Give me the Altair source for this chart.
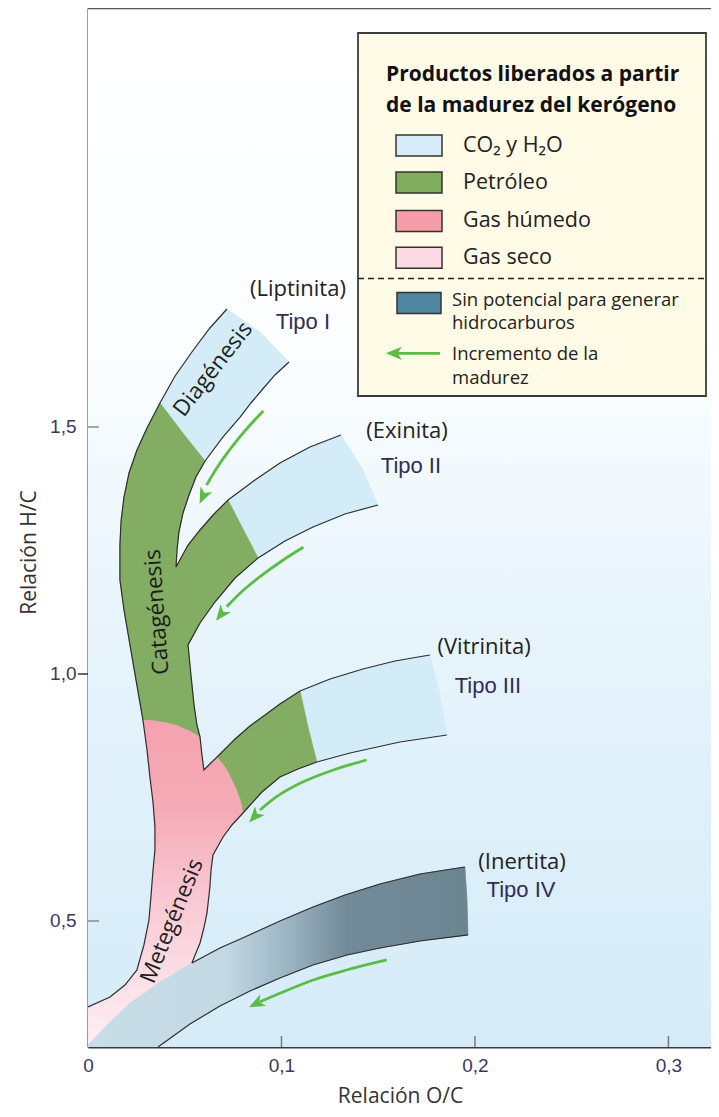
import altair as alt
import pandas as pd

# ---------------- layout -----------------
W, H = 623, 1039
X_DOMAIN = [0.0, 0.3220]
Y_DOMAIN = [0.2449, 2.3482]

BLUE = "#d3ecf8"
GREEN = "#83ad62"
EDGE = "#2e2e2e"
ARROW = "#5cbc46"
SANS = "Open Sans, DejaVu Sans, sans-serif"
COND = "Liberation Sans Narrow, Liberation Sans, sans-serif"

# ---------------- band edges (x = O/C, y = H/C) -----------------
A1 = [(0.0718, 1.7389), (0.0630, 1.7004), (0.0537, 1.6518), (0.0450, 1.6032), (0.0372, 1.5486)]
A2 = [(0.0372, 1.5486), (0.0305, 1.4980), (0.0253, 1.4534), (0.0212, 1.4069), (0.0186, 1.3583),
      (0.0171, 1.3097), (0.0165, 1.2611), (0.0165, 1.1903), (0.0186, 1.1296), (0.0217, 1.0587),
      (0.0248, 0.9879), (0.0284, 0.9069)]
A3 = [(0.0284, 0.9069), (0.0305, 0.8462), (0.0320, 0.7915), (0.0336, 0.7409), (0.0346, 0.6903),
      (0.0346, 0.6437), (0.0336, 0.6032), (0.0326, 0.5526), (0.0315, 0.5020), (0.0289, 0.4514),
      (0.0253, 0.4008), (0.0191, 0.3704), (0.0114, 0.3462), (0.0, 0.3259)]
B1 = [(0.1039, 1.6316), (0.0966, 1.6053), (0.0899, 1.5749), (0.0842, 1.5486), (0.0786, 1.5202),
      (0.0698, 1.4798), (0.0605, 1.4312)]
B2 = [(0.0605, 1.4312), (0.0558, 1.3988), (0.0522, 1.3623), (0.0491, 1.3259), (0.0470, 1.2874),
      (0.0460, 1.2510), (0.0455, 1.2166)]
C1 = [(0.0455, 1.2166), (0.0486, 1.2389), (0.0517, 1.2611), (0.0579, 1.2915), (0.0651, 1.3239),
      (0.0724, 1.3522)]
C2 = [(0.0724, 1.3522), (0.0863, 1.3927), (0.0992, 1.4271), (0.1147, 1.4595), (0.1307, 1.4838)]
D1 = [(0.1499, 1.3421), (0.1328, 1.3239), (0.1163, 1.2976), (0.1018, 1.2692), (0.0879, 1.2348)]
D2 = [(0.0879, 1.2348), (0.0760, 1.1943), (0.0656, 1.1457), (0.0579, 1.1032), (0.0517, 1.0587)]
E1 = [(0.0517, 1.0587), (0.0532, 0.9980), (0.0548, 0.9372), (0.0563, 0.8968), (0.0579, 0.8725)]
E2 = [(0.0579, 0.8725), (0.0589, 0.8360), (0.0599, 0.8057)]
F1 = [(0.0599, 0.8057), (0.0630, 0.8178), (0.0667, 0.8320)]
F2 = [(0.0667, 0.8320), (0.0760, 0.8684), (0.0837, 0.8947), (0.0915, 0.9170), (0.0992, 0.9393),
      (0.1096, 0.9656)]
F3 = [(0.1096, 0.9656), (0.1251, 0.9899), (0.1421, 1.0101), (0.1587, 1.0263), (0.1767, 1.0385)]
G1 = [(0.1855, 0.8765), (0.1612, 0.8623), (0.1354, 0.8401), (0.1183, 0.8219)]
G2 = [(0.1183, 0.8219), (0.1085, 0.8077), (0.0992, 0.7915), (0.0899, 0.7611), (0.0801, 0.7186)]
G3 = [(0.0801, 0.7186), (0.0744, 0.6943), (0.0698, 0.6700), (0.0646, 0.6336)]
HM = [(0.0646, 0.6336), (0.0636, 0.6032), (0.0630, 0.5688), (0.0615, 0.5162), (0.0599, 0.4858),
      (0.0579, 0.4555), (0.0537, 0.4150)]
I1 = [(0.0, 0.2490), (0.0114, 0.2955), (0.0217, 0.3340), (0.0372, 0.3765), (0.0537, 0.4150)]
I2 = [(0.0537, 0.4150), (0.0682, 0.4453), (0.0822, 0.4696), (0.0992, 0.5000), (0.1163, 0.5283),
      (0.1328, 0.5526), (0.1509, 0.5749), (0.1716, 0.5951), (0.1948, 0.6093)]
J = [(0.1964, 0.4717), (0.1716, 0.4595), (0.1509, 0.4453), (0.1339, 0.4312), (0.1163, 0.4109),
     (0.0992, 0.3846), (0.0837, 0.3583), (0.0682, 0.3279), (0.0527, 0.2915), (0.0362, 0.2449)]
IV_CORNER = [(0.0, 0.2449)]
CAP1 = [(0.0718, 1.7389), (0.0889, 1.6923), (0.1039, 1.6316)]
CAP2 = [(0.1307, 1.4838), (0.1416, 1.4170), (0.1499, 1.3421)]
CAP3 = [(0.1767, 1.0385), (0.1819, 0.9575), (0.1855, 0.8765)]
CAP4 = [(0.1948, 0.6093), (0.1959, 0.5425), (0.1964, 0.4717)]
K1 = [(0.0372, 1.5486), (0.0486, 1.4899), (0.0605, 1.4312)]
K2 = [(0.0724, 1.3522), (0.0801, 1.2935), (0.0879, 1.2348)]
K3 = [(0.1096, 0.9656), (0.1137, 0.8927), (0.1183, 0.8219)]
K4 = [(0.0284, 0.9069), (0.0346, 0.9049), (0.0408, 0.9008), (0.0465, 0.8947), (0.0522, 0.8846),
      (0.0579, 0.8725)]
K5 = [(0.0667, 0.8320), (0.0718, 0.8057), (0.0760, 0.7713), (0.0786, 0.7449), (0.0801, 0.7186)]

ARROWS = [
    [(0.0906, 1.5324), (0.0846, 1.5075), (0.0786, 1.4804), (0.0725, 1.4500), (0.0665, 1.4164),
     (0.0613, 1.3826), (0.0579, 1.3468)],
    [(0.1113, 1.2565), (0.1009, 1.2308), (0.0889, 1.1970), (0.0786, 1.1634), (0.0717, 1.1362),
     (0.0665, 1.1093)],
    [(0.1440, 0.8259), (0.1268, 0.8057), (0.1096, 0.7787), (0.0975, 0.7516), (0.0889, 0.7247),
     (0.0837, 0.7010)],
    [(0.1544, 0.4211), (0.1337, 0.4008), (0.1164, 0.3806), (0.0992, 0.3536), (0.0889, 0.3366),
     (0.0837, 0.3265)],
]
ARROW_ANGLES = [205, 218, 222, 244]

PAREN_TEXT = ["(Liptinita)", "(Exinita)", "(Vitrinita)", "(Inertita)"]
PAREN_X = [0.1085, 0.1649, 0.2047, 0.2243]
PAREN_Y = [1.779, 1.492, 1.055, 0.619]
TIPO_TEXT = ["Tipo I", "Tipo II", "Tipo III", "Tipo IV"]
TIPO_X = [0.1111, 0.1669, 0.2067, 0.2238]
TIPO_Y = [1.7126, 1.421, 0.976, 0.563]
STAGE_TEXT = ["Diagénesis", "Catagénesis", "Metegénesis"]
STAGE_X = [0.0646, 0.0357, 0.0434]
STAGE_Y = [1.617, 1.1255, 0.500]
STAGE_ANGLE = [308, 266, 292]

LEG_LABELS = ["CO₂ y H₂O", "Petróleo", "Gas húmedo", "Gas seco"]
LEG_COLORS = ["#d4edf9", "#7fac5f", "#f49ea9", "#fcdbe6"]
LEG_ROW_Y = [137.5, 174.5, 213.0, 249.7]
LEG_TITLE = ["Productos liberados a partir", "de la madurez del kerógeno"]


def join(*parts):
    pts = []
    for part in parts:
        for p in part:
            if not pts or pts[-1] != p:
                pts.append(p)
    return pts


def rev(e):
    return e[::-1]


def frame(pts):
    return pd.DataFrame({"x": [p[0] for p in pts], "y": [p[1] for p in pts], "i": list(range(len(pts)))})


PINK_GRAD = alt.Gradient(
    gradient="linear", x1=0, x2=0, y1=0, y2=1,
    stops=[alt.GradientStop(color="#f4a2af", offset=0),
           alt.GradientStop(color="#f5abb7", offset=0.28),
           alt.GradientStop(color="#f8c3ce", offset=0.5),
           alt.GradientStop(color="#fbdbe3", offset=0.75),
           alt.GradientStop(color="#fdeef3", offset=1)])
IV_GRAD = alt.Gradient(
    gradient="linear", x1=0, x2=1, y1=0, y2=0,
    stops=[alt.GradientStop(color="#c8dde8", offset=0),
           alt.GradientStop(color="#c3d9e4", offset=0.36),
           alt.GradientStop(color="#9db6c3", offset=0.52),
           alt.GradientStop(color="#738b98", offset=0.68),
           alt.GradientStop(color="#6d8591", offset=1)])
BG_GRAD = alt.Gradient(
    gradient="linear", x1=0, x2=0, y1=0, y2=1,
    stops=[alt.GradientStop(color="#ffffff", offset=0),
           alt.GradientStop(color="#fcfeff", offset=0.32),
           alt.GradientStop(color="#e9f5fc", offset=0.57),
           alt.GradientStop(color="#dff0fa", offset=0.76),
           alt.GradientStop(color="#d5ecf8", offset=1)])

POLYS = [
    (join(A1, K1, rev(B1), rev(CAP1)), BLUE),
    (join(C2, CAP2, D1, rev(K2)), BLUE),
    (join(F3, CAP3, G1, rev(K3)), BLUE),
    (join(A2, K4, rev(E1), rev(D2), rev(K2), rev(C1), rev(B2), rev(K1)), GREEN),
    (join(F2, K3, G2, rev(K5)), GREEN),
    (join(A3, I1, rev(HM), rev(G3), rev(K5), rev(F1), rev(E2), rev(K4)), PINK_GRAD),
    (join(I1, I2, CAP4, J, IV_CORNER), IV_GRAD),
]
STROKES = [
    join(A1, A2, A3),
    join(B1, B2, C1, C2),
    join(D1, D2, E1, E2, F1, F2, F3),
    join(G1, G2, G3, HM),
    I2,
    J,
]

x_axis = alt.Axis(values=[0, 0.1, 0.2, 0.3], ticks=False, grid=False,
                  labelExpr="datum.value == 0 ? '0' : replace(format(datum.value, '.1f'), '.', ',')",
                  labelFont=COND, labelFontSize=19, labelColor="#3b3762", labelPadding=9,
                  labelFlush=False, labelBaseline="top", labelOverlap=False,
                  domainColor="#3a3a3a", domainWidth=2,
                  title="Relación O/C", titleFont=SANS, titleFontSize=21, titleFontWeight="normal",
                  titleColor="#333333", titleX=312, titleY=49, titleAlign="center",
                  titleBaseline="middle")
y_axis = alt.Axis(values=[0.5, 1.0, 1.5], ticks=False, grid=False,
                  labelExpr="replace(format(datum.value, '.1f'), '.', ',')",
                  labelFont=COND, labelFontSize=19, labelColor="#3b3762", labelPadding=12,
                  labelOverlap=False,
                  domainColor="#3a3a3a", domainWidth=2,
                  title="Relación H/C", titleFont=SANS, titleFontSize=21, titleFontWeight="normal",
                  titleColor="#333333", titleAngle=270, titleX=-59, titleY=544, titleAlign="center",
                  titleBaseline="middle")
xs = alt.Scale(domain=X_DOMAIN, nice=False, zero=False)
ys = alt.Scale(domain=Y_DOMAIN, nice=False, zero=False)
X = alt.X("x:Q", scale=xs, axis=x_axis)
Y = alt.Y("y:Q", scale=ys, axis=y_axis)

ONE = pd.DataFrame({"k": [0]})
layers = []

layers.append(alt.Chart(ONE).mark_rect(fill=BG_GRAD).encode(
    x=alt.value(0), x2=alt.value(W), y=alt.value(0), y2=alt.value(H)))

for pts, fill in POLYS:
    layers.append(alt.Chart(frame(pts)).mark_line(
        fill=fill, stroke=fill, strokeWidth=0.7, interpolate="linear-closed", clip=True
    ).encode(x=X, y=Y, order="i:Q"))

for pts in STROKES:
    layers.append(alt.Chart(frame(pts)).mark_line(
        stroke=EDGE, strokeWidth=1.2, clip=True).encode(x=X, y=Y, order="i:Q"))

HEAD = "M0,-0.1 L0.62,1.4 L0,1.0 L-0.62,1.4 Z"
for pts in ARROWS:
    layers.append(alt.Chart(frame(pts[:-1])).mark_line(
        stroke=ARROW, strokeWidth=2.8, interpolate="monotone").encode(x=X, y=Y, order="i:Q"))
tips = pd.DataFrame({"x": [a[-1][0] for a in ARROWS], "y": [a[-1][1] for a in ARROWS],
                     "ang": ARROW_ANGLES})
layers.append(alt.Chart(tips).mark_point(shape=HEAD, filled=True, size=450, color=ARROW, opacity=1)
              .encode(x=X, y=Y, angle=alt.Angle("ang:Q", scale=None)))

layers.append(alt.Chart(pd.DataFrame({"x": PAREN_X, "y": PAREN_Y, "t": PAREN_TEXT})).mark_text(
    font=SANS, fontSize=22, color="#222222", baseline="middle", align="center").encode(x=X, y=Y, text="t:N"))
layers.append(alt.Chart(pd.DataFrame({"x": TIPO_X, "y": TIPO_Y, "t": TIPO_TEXT})).mark_text(
    font=COND, fontSize=22, color="#312d5a", baseline="middle", align="center").encode(x=X, y=Y, text="t:N"))
layers.append(alt.Chart(pd.DataFrame({"x": STAGE_X, "y": STAGE_Y, "t": STAGE_TEXT, "a": STAGE_ANGLE})).mark_text(
    font=SANS, fontSize=22.5, color="#1e1e1e", baseline="middle", align="center").encode(
    x=X, y=Y, text="t:N", angle=alt.Angle("a:Q", scale=None)))

for val, x0, x1, col in [(1.5, 0, 11, "#8a8a8a"), (1.0, -10, 0, "#333333"), (0.5, 0, 11, "#8a8a8a")]:
    layers.append(alt.Chart(pd.DataFrame({"y": [val]})).mark_rule(color=col, strokeWidth=1.5).encode(
        y=Y, x=alt.value(x0), x2=alt.value(x1)))
layers.append(alt.Chart(pd.DataFrame({"x": [0.1, 0.2, 0.3]})).mark_rule(color="#7a7a7a", strokeWidth=1.5).encode(
    x=X, y=alt.value(H - 11), y2=alt.value(H)))
layers.append(alt.Chart(ONE).mark_rule(color="#5a5a5a", strokeWidth=2.5).encode(
    x=alt.value(0), x2=alt.value(W), y=alt.value(0)))

# ---------------- legend box -----------------
layers.append(alt.Chart(ONE).mark_rect(fill="#fffbe7", stroke="#3c3c3c", strokeWidth=1.8).encode(
    x=alt.value(270), x2=alt.value(618), y=alt.value(25), y2=alt.value(388)))
for i, line in enumerate(LEG_TITLE):
    layers.append(alt.Chart(ONE).mark_text(text=line, font=SANS, fontSize=21, fontWeight="bold",
                                           color="#111111", align="left", baseline="middle").encode(
        x=alt.value(298), y=alt.value(67 + 31 * i)))
for lab, col, cy in zip(LEG_LABELS, LEG_COLORS, LEG_ROW_Y):
    layers.append(alt.Chart(ONE).mark_rect(fill=col, stroke="#333333", strokeWidth=1.5).encode(
        x=alt.value(308), x2=alt.value(354), y=alt.value(cy - 10.5), y2=alt.value(cy + 10.5)))
    layers.append(alt.Chart(ONE).mark_text(text=lab, font=SANS, fontSize=21.5, color="#222222",
                                           align="left", baseline="middle").encode(
        x=alt.value(375), y=alt.value(cy)))
layers.append(alt.Chart(ONE).mark_rule(color="#222222", strokeWidth=1.3, strokeDash=[6, 4]).encode(
    x=alt.value(270), x2=alt.value(618), y=alt.value(270.5)))
layers.append(alt.Chart(ONE).mark_rect(fill="#4e86a0", stroke="#333333", strokeWidth=1.5).encode(
    x=alt.value(309), x2=alt.value(353), y=alt.value(284.5), y2=alt.value(305.5)))
for txt, yy in [("Sin potencial para generar", 291.5), ("hidrocarburos", 314.5),
                ("Incremento de la", 345.5), ("madurez", 370.0)]:
    layers.append(alt.Chart(ONE).mark_text(text=txt, font=SANS, fontSize=18.5, color="#222222",
                                           align="left", baseline="middle").encode(
        x=alt.value(364), y=alt.value(yy)))
layers.append(alt.Chart(ONE).mark_rule(color=ARROW, strokeWidth=2.8).encode(
    x=alt.value(308), x2=alt.value(352), y=alt.value(345.3)))
layers.append(alt.Chart(ONE).mark_point(shape=HEAD, filled=True, size=450, color=ARROW, opacity=1,
                                        angle=270).encode(x=alt.value(299), y=alt.value(345.3)))

chart = alt.layer(*layers).properties(
    width=W, height=H,
    padding={"left": 80, "top": 0, "right": 0, "bottom": 62},
    autosize=alt.AutoSizeParams(type="none"),
).configure_view(stroke="transparent")

chart.save("out.html", embed_options={"renderer": "svg", "actions": False})
